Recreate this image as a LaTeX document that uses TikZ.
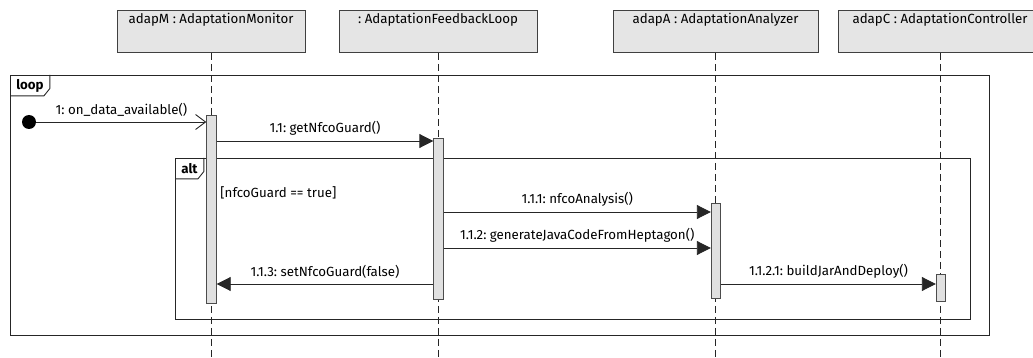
\documentclass[tikz,border=0pt]{standalone}
\usepackage{fontspec}
\setmainfont{Fira Sans}
\usetikzlibrary{arrows.meta,positioning,calc}
\frenchspacing

\begin{document}
\begin{tikzpicture}[
    x=1pt, y=-1pt, line width=0.9pt,
    font=\fontsize{13.3}{15}\selectfont,
    head/.style     = {rectangle, draw=black!75, fill=black!10,
                       minimum height=42pt, inner sep=0pt, anchor=north},
    headtext/.style = {anchor=north, inner sep=0pt, yshift=-3pt},
    lifeline/.style = {draw=black!85, dash pattern=on 7pt off 4pt},
    bar/.style      = {rectangle, draw=black!70, fill=black!12,
                       minimum width=9.5pt, inner sep=0pt},
    frame/.style    = {rectangle, draw=black!85, inner sep=0pt,
                       anchor=north west},
    tag/.style      = {rectangle, inner sep=0pt, minimum height=20pt,
                       anchor=north west, font=\fontsize{13.3}{15}\selectfont\bfseries},
    msg/.style      = {draw=black!85, -{Triangle[length=14pt, width=14pt]}},
    found/.style    = {draw=black!85, -{Straight Barb[length=10pt, width=15pt]}},
    call/.style     = {above, inner sep=5pt},
]
\useasboundingbox (0,0) rectangle (1033,358);

% Frames
\node[frame, minimum width=979pt, minimum height=260pt] (loopF) at (10,75) {};
\node[tag, minimum width=39pt] (loopT) at (loopF.north west) {loop};
\draw[draw=black!85] (loopT.north east) -- ([yshift=-3pt]loopT.east)
    -- ([xshift=-6pt]loopT.south east) -- (loopT.south west);

\node[frame, minimum width=795pt, minimum height=161pt] (altF) at (175,158) {};
\node[tag, minimum width=28pt] (altT) at (altF.north west) {alt};
\draw[draw=black!85] (altT.north east) -- ([yshift=-3pt]altT.east)
    -- ([xshift=-6pt]altT.south east) -- (altT.south west);
\node[anchor=west, inner sep=0pt] (guard) at (220,193) {[nfcoGuard == true]};

% Lifelines
\node[head, minimum width=188pt, label={[headtext]north:{adapM : AdaptationMonitor}}] (mon) at (211,10) {};
\node[head, minimum width=198pt, label={[headtext]north:{: AdaptationFeedbackLoop}}] (fbl) at (438,10) {};
\node[head, minimum width=205pt, label={[headtext]north:{adapA : AdaptationAnalyzer}}] (ana) at (715.5,10) {};
\node[head, minimum width=204pt, label={[headtext]north:{adapC : AdaptationController}}] (ctrl) at (940,10) {};

\coordinate (floor) at (0,358);
\foreach \h in {mon, fbl, ana, ctrl}
    \draw[lifeline] (\h.south) -- (\h.south |- floor);

% Activations
\node[bar, minimum height=188pt] (actM) at (211.5,209) {};
\node[bar, minimum height=161pt] (actL) at (438.5,218.5) {};
\node[bar, minimum height=95pt]  (actA) at (716,250.5) {};
\node[bar, minimum height=27pt]  (actC) at (941,287.5) {};

% Messages
\coordinate (y11)   at (0,141);
\coordinate (y111)  at (0,212);
\coordinate (y112)  at (0,248);
\coordinate (y113)  at (0,284);

\node[circle, fill=black, minimum size=14pt, inner sep=0pt] (src) at (29,122) {};
\draw[found] (src) -- (actM.west |- src) node[call, midway] {1: on\_data\_available()};
\draw[msg] (actM.east |- y11) -- (actL.west |- y11)
    node[call, midway] {1.1: getNfcoGuard()};
\draw[msg] (actL.east |- y111) -- (actA.west |- y111)
    node[call, midway] {1.1.1: nfcoAnalysis()};
\draw[msg] (actL.east |- y112) -- (actA.west |- y112)
    node[call, midway] {1.1.2: generateJavaCodeFromHeptagon()};
\draw[msg] (actL.west |- y113) -- (actM.east |- y113)
    node[call, midway] {1.1.3: setNfcoGuard(false)};
\draw[msg] (actA.east |- y113) -- (actC.west |- y113)
    node[call, midway] {1.1.2.1: buildJarAndDeploy()};

\end{tikzpicture}
\end{document}
